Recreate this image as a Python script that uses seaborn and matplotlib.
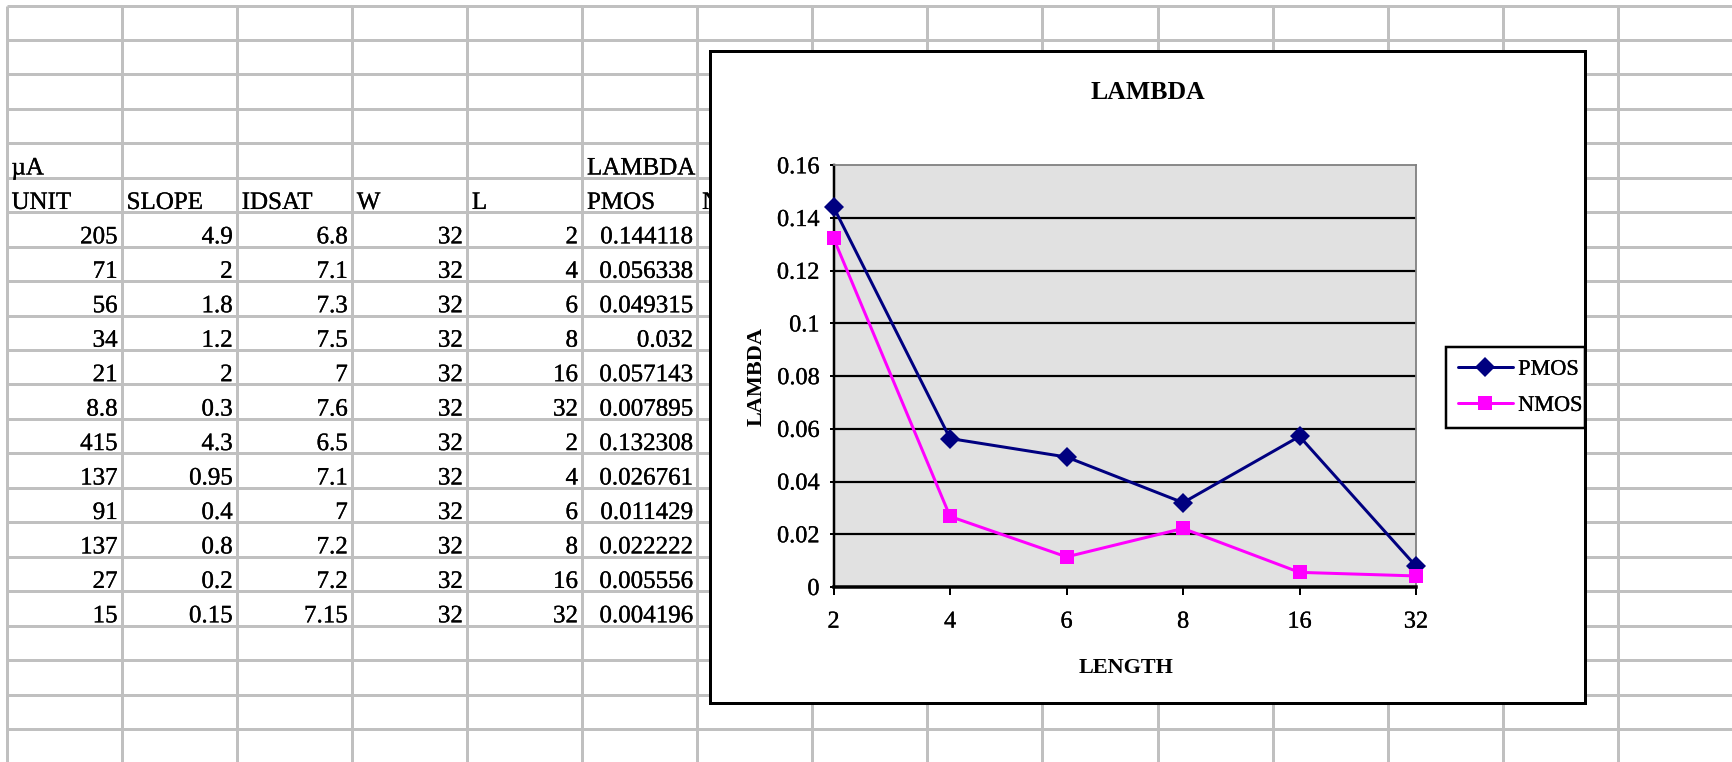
import matplotlib
matplotlib.use("Agg")
import matplotlib.pyplot as plt
import matplotlib.patheffects as pe
import seaborn as sns
import pandas as pd
from matplotlib.patches import Rectangle

# ---------------- data ----------------
unit_vals = [205, 71, 56, 34, 21, 8.8, 415, 137, 91, 137, 27, 15]
slope_vals = [4.9, 2, 1.8, 1.2, 2, 0.3, 4.3, 0.95, 0.4, 0.8, 0.2, 0.15]
idsat_vals = [6.8, 7.1, 7.3, 7.5, 7, 7.6, 6.5, 7.1, 7, 7.2, 7.2, 7.15]
w_vals = [32, 32, 32, 32, 32, 32, 32, 32, 32, 32, 32, 32]
l_vals = [2, 4, 6, 8, 16, 32, 2, 4, 6, 8, 16, 32]
pmos_lambda = [0.144118, 0.056338, 0.049315, 0.032, 0.057143, 0.007895]
nmos_lambda = [0.132308, 0.026761, 0.011429, 0.022222, 0.005556, 0.004196]
length_cats = ["2", "4", "6", "8", "16", "32"]
series_names = ["PMOS", "NMOS"]
ytick_vals = [0, 0.02, 0.04, 0.06, 0.08, 0.1, 0.12, 0.14, 0.16]
col_headers = ["UNIT", "SLOPE", "IDSAT", "W", "L", "PMOS", "NMOS"]

# ---------------- style ----------------
sns.set_style("white")
plt.rcParams['font.family'] = ['Liberation Serif', 'DejaVu Serif']
plt.rcParams['text.color'] = 'black'
plt.rcParams['axes.labelcolor'] = 'black'
plt.rcParams['xtick.color'] = 'black'
plt.rcParams['ytick.color'] = 'black'

HEAVY = [pe.withStroke(linewidth=0.2, foreground='black')]

W, H = 1732, 762
PX = 72 / 100.0  # points per pixel

fig = plt.figure(figsize=(W / 100, H / 100), dpi=100)
bg = fig.add_axes([0, 0, 1, 1], zorder=0)
bg.set_xlim(0, W)
bg.set_ylim(H, 0)
bg.axis('off')

# spreadsheet grid
grid_c = '#c0c0c0'
col_x = [6.5 + 115.1 * i for i in range(15)]
row_y = [5.5 + 34.45 * i for i in range(22)]
bg.vlines(col_x, row_y[0], H, colors=grid_c, lw=3 * PX, zorder=1)
bg.hlines(row_y, col_x[0], W, colors=grid_c, lw=3 * PX, zorder=1)

CELL_FS = 18


def cell(col, row, s, align):
    yb = row_y[row + 1] - 3.3
    if align == 'left':
        bg.text(col_x[col] + 5, yb, s, ha='left', va='baseline',
                fontsize=CELL_FS, zorder=3, path_effects=HEAVY)
    else:
        bg.text(col_x[col + 1] - 4, yb, s, ha='right', va='baseline',
                fontsize=CELL_FS, zorder=3, path_effects=HEAVY)


cell(0, 4, "\u00b5A", 'left')
cell(5, 4, "LAMBDA", 'left')
for c, name in enumerate(col_headers):
    cell(c, 5, name, 'left')

lambda_col = pmos_lambda + nmos_lambda
columns = [unit_vals, slope_vals, idsat_vals, w_vals, l_vals, lambda_col]
for c, vals in enumerate(columns):
    for r, v in enumerate(vals):
        cell(c, 6 + r, f"{v:g}", 'right')

# chart area
CX0, CY0, CX1, CY1 = 710, 50.7, 1585, 703.3
bg.add_patch(Rectangle((CX0, CY0), CX1 - CX0, CY1 - CY0, facecolor='white',
                       edgecolor='none', zorder=5))
fig.add_artist(Rectangle((CX0, CY0), CX1 - CX0, CY1 - CY0, fill=False,
                         ec='black', lw=3 * PX, transform=bg.transData,
                         zorder=10))

bg.text(1148, 99.3, "LAMBDA", ha='center', va='baseline', fontsize=18.5,
        fontweight='bold', zorder=6)
bg.text(1126, 672.7, "LENGTH", ha='center', va='baseline', fontsize=16,
        fontweight='bold', zorder=6)
bg.text(762, 376, "LAMBDA", ha='center', va='baseline', rotation=90,
        rotation_mode='anchor', fontsize=16, fontweight='bold', zorder=6)

# plot area
L, R, T, B = 833.6, 1416, 165.3, 587
ax = fig.add_axes([L / W, 1 - B / H, (R - L) / W, (B - T) / H], zorder=1)
ax.set_facecolor('#e1e1e1')

df = pd.DataFrame({
    'LENGTH': length_cats + length_cats,
    'LAMBDA': pmos_lambda + nmos_lambda,
    'series': [series_names[0]] * len(length_cats) + [series_names[1]] * len(length_cats),
})

sns.lineplot(data=df, x='LENGTH', y='LAMBDA', hue='series', style='series',
             markers={'PMOS': 'D', 'NMOS': 's'}, dashes=False,
             palette={'PMOS': '#000080', 'NMOS': '#ff00ff'}, sort=False,
             lw=3 * PX, markersize=9.0, markeredgewidth=0,
             legend=False, ax=ax, errorbar=None)
data_lines = list(ax.lines)
for ln in data_lines:
    ln.set_clip_on(False)
    ln.set_zorder(3)
    if ln.get_marker() == 's':
        ln.set_markersize(9.5)
    else:
        ln.set_markersize(10.5)

ax.set_xlim(0, len(length_cats) - 1)
ax.set_ylim(ytick_vals[0], ytick_vals[-1])
ax.set_yticks(ytick_vals)
ax.set_yticklabels([f"{v:g}" for v in ytick_vals])
ax.set_xlabel('')
ax.set_ylabel('')

for v in ytick_vals[1:-1]:
    ax.axhline(v, color='black', lw=2.2 * PX, zorder=1)

ax.spines['left'].set(color='black', lw=2.5 * PX)
ax.spines['bottom'].set(color='black', lw=3.5 * PX)
ax.spines['top'].set(color='#808080', lw=1.8 * PX)
ax.spines['right'].set(color='#808080', lw=1.8 * PX)

ax.tick_params(axis='y', left=True, direction='out', length=4.5 * PX,
               width=2 * PX, pad=7, labelsize=17.5, colors='black')
ax.tick_params(axis='x', bottom=True, direction='out', length=8 * PX,
               width=2 * PX, pad=12, labelsize=17.5, colors='black')
for lbl in ax.get_xticklabels() + ax.get_yticklabels():
    lbl.set_path_effects(HEAVY)

leg = ax.legend(handles=data_lines, labels=series_names, loc='upper left',
                bbox_to_anchor=(1446 / W, 0, (1585 - 1446) / W, 1 - 347 / H),
                bbox_transform=fig.transFigure, mode='expand',
                borderaxespad=0, frameon=True, fancybox=False, shadow=False,
                edgecolor='black', framealpha=1, facecolor='white',
                fontsize=16, handlelength=2.45, handletextpad=0.25,
                borderpad=0.55, labelspacing=0.7, numpoints=1)
leg.get_frame().set_linewidth(2.5 * PX)
for t in leg.get_texts():
    t.set_path_effects(HEAVY)

fig.savefig("out.png", dpi=100)
